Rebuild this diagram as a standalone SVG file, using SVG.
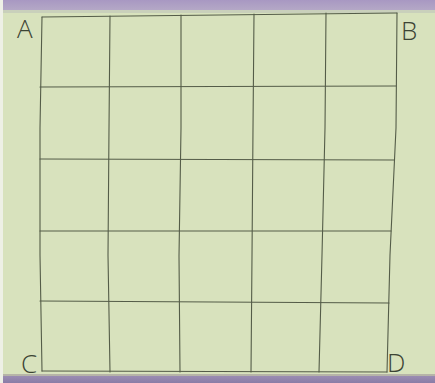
<svg xmlns="http://www.w3.org/2000/svg" width="435" height="383" viewBox="0 0 435 383">
<style>
.ln{fill:none;stroke:#545c48;stroke-width:1.1;stroke-linejoin:round;stroke-linecap:round}
.lb{font-family:"Open Sans","DejaVu Sans",sans-serif;font-size:26px;fill:#3c4434;font-weight:300}
</style>
<defs>
<linearGradient id="top" x1="0" y1="0" x2="0" y2="1">
<stop offset="0" stop-color="#a898c2"/>
<stop offset="1" stop-color="#b4a8c6"/>
</linearGradient>
<linearGradient id="bot" x1="0" y1="0" x2="0" y2="1">
<stop offset="0" stop-color="#9a8cb2"/>
<stop offset="1" stop-color="#8a7ca6"/>
</linearGradient>
</defs>
<rect id="paper" x="0" y="0" width="435" height="383" fill="#d8e2bd"/>
<rect id="topband" x="0" y="0" width="435" height="10" fill="url(#top)"/>
<rect x="0" y="10" width="435" height="3" fill="#c9d0bb"/>
<rect id="bottomband" x="0" y="376" width="435" height="7" fill="url(#bot)"/>
<rect x="0" y="374" width="435" height="2" fill="#b6b4a8"/>
<rect x="0" y="0" width="3" height="383" fill="#eef0e6"/>
<g id="connectors">
<polyline class="ln" points="42,17 40,128 40,255 42,371"/>
<polyline class="ln" points="110,16 109,128 108,255 110,372"/>
<polyline class="ln" points="181,15 181,128 179,256 180,372"/>
<polyline class="ln" points="254,14 253,128 252,256 251,372"/>
<polyline class="ln" points="326,13 325,128 322,255 319,372"/>
<polyline class="ln" points="397,13 396,128 390,255 387,372"/>
<polyline class="ln" points="42,17 397,13"/>
<polyline class="ln" points="40,87 396,86"/>
<polyline class="ln" points="40,159 394,160"/>
<polyline class="ln" points="40,231 391,231"/>
<polyline class="ln" points="40,301 389,303"/>
<polyline class="ln" points="42,371 387,372"/>
</g>
<g id="A"><text class="lb" x="17" y="38">A</text></g>
<g id="B"><text class="lb" x="401" y="40">B</text></g>
<g id="C"><text class="lb" x="21" y="373">C</text></g>
<g id="D"><text class="lb" x="387" y="372">D</text></g>
</svg>
